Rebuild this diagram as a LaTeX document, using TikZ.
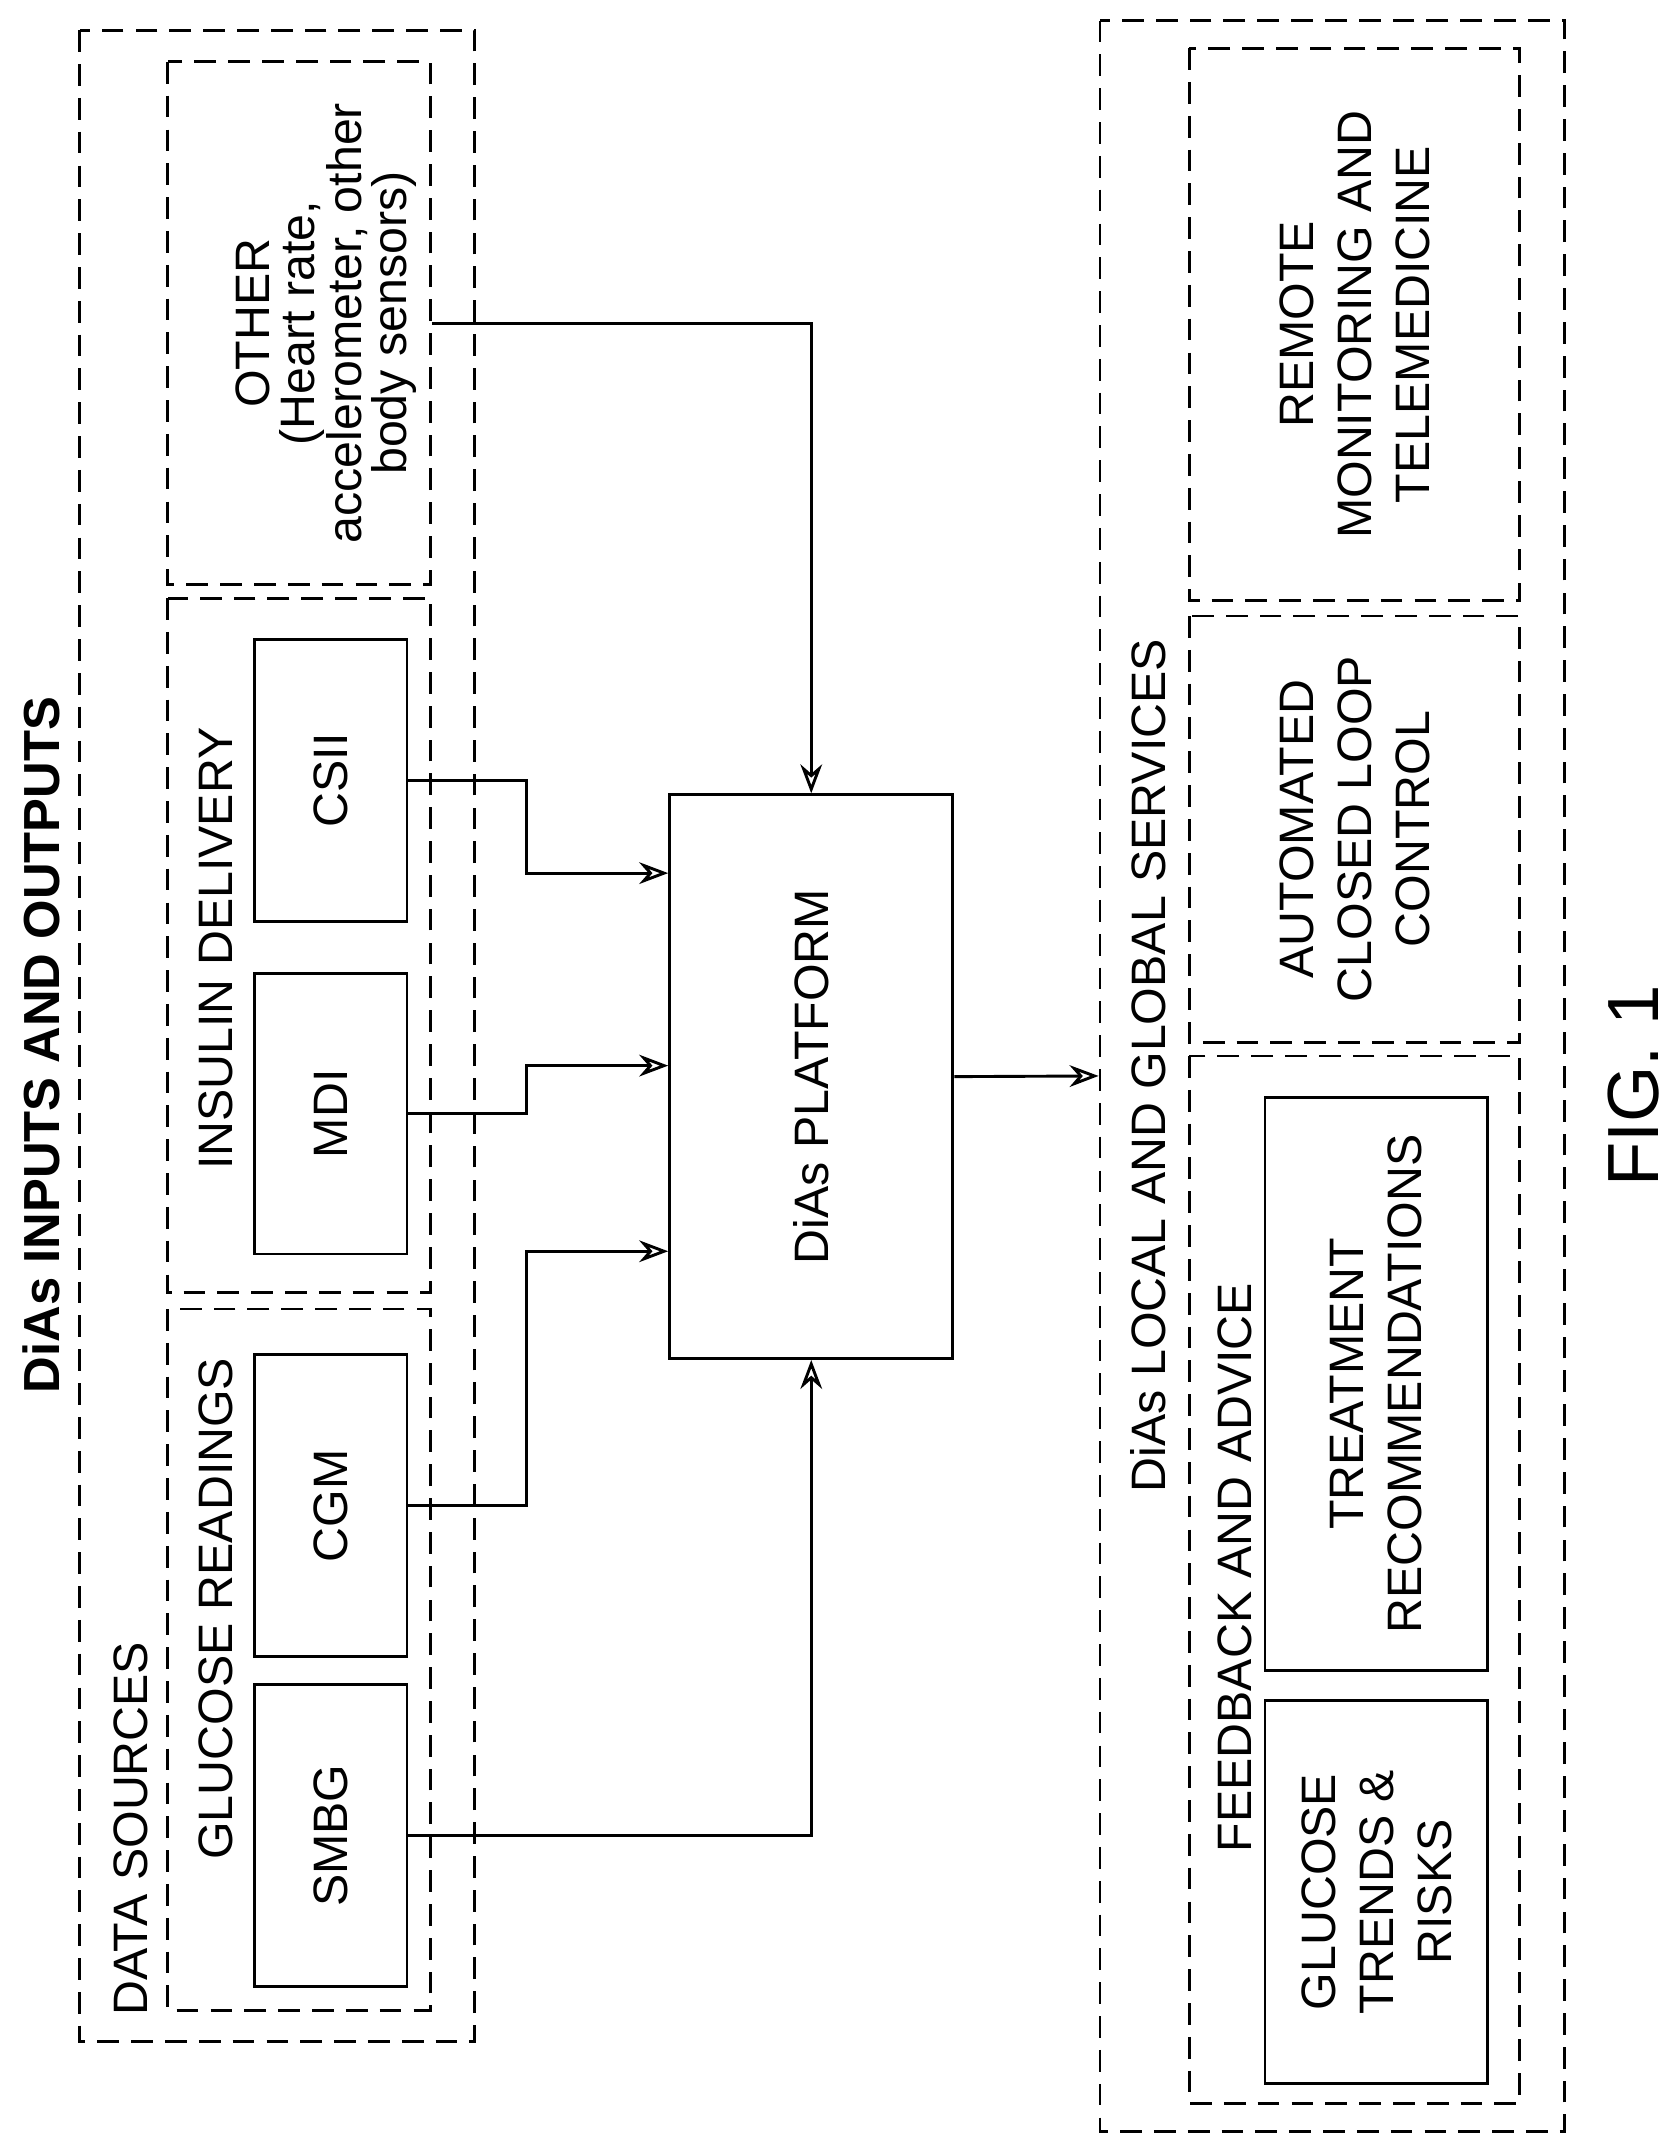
\documentclass[tikz,border=0pt]{standalone}
\usepackage{fontspec}
\setmainfont{Liberation Sans}
\usetikzlibrary{arrows.meta}
\tikzset{
  box/.style={draw, line width=1.2pt, rotate=90, align=center},
  dbox/.style={draw, line width=1.2pt, dash pattern=on 9pt off 5pt, rotate=90},
  lbl/.style={rotate=90, align=center},
  arr/.style={-{Stealth[length=12pt,width=9pt,open]}, line width=1.2pt}
}
\begin{document}
\begin{tikzpicture}[x=0.02cm,y=0.02cm,font=\fontsize{20}{24}\selectfont]
  \useasboundingbox (0,0) rectangle (1220,-1568);
  % data sources
  \node[dbox, minimum width=1463*0.02cm, minimum height=287*0.02cm] (src) at (201.5,-753.5) {};
  \node[lbl] (srcl) at (95,-1330) {DATA SOURCES};
  \node[lbl,font=\fontsize{21}{24}\bfseries] (title) at (30,-760) {DiAs INPUTS AND OUTPUTS};
  \node[dbox, minimum width=510*0.02cm, minimum height=191*0.02cm] (glu) at (217.5,-1207) {};
  \node[lbl] (glul) at (157,-1170) {GLUCOSE READINGS};
  \node[box, minimum width=220*0.02cm, minimum height=111*0.02cm] (smbg) at (240.5,-1335) {SMBG};
  \node[box, minimum width=220*0.02cm, minimum height=111*0.02cm] (cgm) at (240.5,-1095) {CGM};
  \node[dbox, minimum width=505*0.02cm, minimum height=191*0.02cm] (ins) at (217.5,-687.5) {};
  \node[lbl] (insl) at (157,-690) {INSULIN DELIVERY};
  \node[box, minimum width=204*0.02cm, minimum height=111*0.02cm] (mdi) at (240.5,-810) {MDI};
  \node[box, minimum width=205*0.02cm, minimum height=111*0.02cm] (csii) at (240.5,-567.5) {CSII};
  \node[dbox, minimum width=380*0.02cm, minimum height=191*0.02cm] (oth) at (217.5,-235) {};
  \node[lbl,font=\fontsize{20}{18.5}\selectfont] (othl) at (237,-235) {OTHER\\(Heart rate,\\accelerometer, other\\body sensors)};
  % platform
  \node[box, minimum width=410*0.02cm, minimum height=206*0.02cm] (plat) at (590,-783) {DiAs PLATFORM};
  % services
  \node[dbox, minimum width=1535*0.02cm, minimum height=338*0.02cm] (srv) at (969,-782.5) {};
  \node[lbl] (srvl) at (835,-775) {DiAs LOCAL AND GLOBAL SERVICES};
  \node[dbox, minimum width=762*0.02cm, minimum height=240*0.02cm] (fb) at (985,-1149) {};
  \node[lbl] (fbl) at (898,-1140) {FEEDBACK AND ADVICE};
  \node[box, minimum width=278*0.02cm, minimum height=162*0.02cm] (gtr) at (1001,-1376) {GLUCOSE\\TRENDS \&\\RISKS};
  \node[box, minimum width=417*0.02cm, minimum height=162*0.02cm] (trt) at (1001,-1006.5) {TREATMENT\\RECOMMENDATIONS};
  \node[dbox, minimum width=310*0.02cm, minimum height=240*0.02cm, align=center] (acl) at (985,-603) {AUTOMATED\\CLOSED LOOP\\CONTROL};
  \node[dbox, minimum width=402*0.02cm, minimum height=240*0.02cm, align=center] (rem) at (985,-236) {REMOTE\\MONITORING AND\\TELEMEDICINE};
  \node[lbl,font=\fontsize{30}{34}\selectfont] (fig) at (1188,-790) {FIG. 1};
  % connectors
  \draw[arr] (oth.south) -| (plat.east);
  \draw[arr] (csii.south) -| (383,-635) -- (plat.north |- 0,-635);
  \draw[arr] (mdi.south) -| (383,-775) -- (plat.north |- 0,-775);
  \draw[arr] (cgm.south) -| (383,-910) -- (plat.north |- 0,-910);
  \draw[arr] (smbg.south) -| (plat.west);
  \draw[arr] (plat.south) -- (srv.north);
\end{tikzpicture}
\end{document}
